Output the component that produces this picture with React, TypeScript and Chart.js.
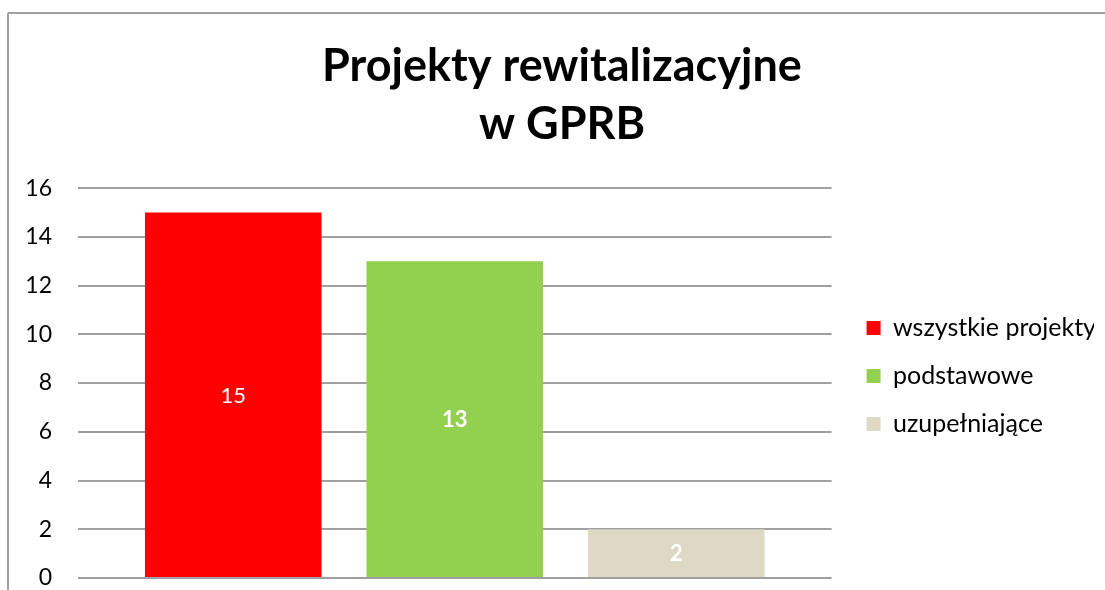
import React, { useEffect, useRef } from "react";
import { Chart, registerables } from "chart.js";

Chart.register(...registerables);

const categories = [""];
const seriesNames = ["wszystkie projekty", "podstawowe", "uzupełniające"];
const seriesValues = [15, 13, 2];
const seriesColors = ["#FF0000", "#92D050", "#DDD9C4"];
const labelBold = [false, true, true];
const titleLines = ["Projekty rewitalizacyjne", "w GPRB"];
const yMin = 0;
const yMax = 16;
const yStep = 2;

const FONT = "Lato, 'Open Sans', sans-serif";

const framePlugin = {
  id: "frame",
  beforeDraw(chart: any) {
    const ctx = chart.ctx;
    ctx.save();
    ctx.strokeStyle = "#A0A0A0";
    ctx.lineWidth = 2;
    ctx.beginPath();
    ctx.moveTo(8, 13);
    ctx.lineTo(chart.width, 13);
    ctx.moveTo(8, 13);
    ctx.lineTo(8, chart.height);
    ctx.stroke();
    ctx.restore();
  },
};

const layoutShiftPlugin = {
  id: "layoutShift",
  afterLayout(chart: any) {
    const lg = chart.legend;
    if (lg) {
      lg.left += 12;
      lg.top -= 7;
      lg.bottom -= 7;
    }
    const tb = chart.titleBlock;
    if (tb) {
      tb.left += 6;
      tb.right += 6;
    }
  },
};

const valueLabelPlugin = {
  id: "valueLabels",
  afterDatasetsDraw(chart: any) {
    const ctx = chart.ctx;
    ctx.save();
    ctx.fillStyle = "#FFFFFF";
    ctx.textAlign = "center";
    ctx.textBaseline = "middle";
    chart.data.datasets.forEach((ds: any, i: number) => {
      const meta = chart.getDatasetMeta(i);
      meta.data.forEach((bar: any, j: number) => {
        const v = ds.data[j];
        ctx.font = `${labelBold[i] ? "bold " : ""}22px ${FONT}`;
        ctx.fillText(String(v), bar.x, (bar.y + bar.base) / 2 + 1);
      });
    });
    ctx.restore();
  },
};

export default function App() {
  const ref = useRef<HTMLCanvasElement | null>(null);
  useEffect(() => {
    if (!ref.current) return;
    const chart = new Chart(ref.current, {
      type: "bar",
      data: {
        labels: categories,
        datasets: seriesNames.map((name, i) => ({
          label: name,
          data: [seriesValues[i]],
          backgroundColor: seriesColors[i],
          borderWidth: 0,
          categoryPercentage: 0.882,
          barPercentage: 0.797,
        })),
      },
      options: {
        animation: false,
        responsive: false,
        layout: { padding: { left: 18, right: 11, top: 0, bottom: 12 } },
        plugins: {
          title: {
            display: true,
            text: titleLines,
            color: "#000000",
            font: { family: FONT, size: 45, weight: "bold", lineHeight: 1.29 },
            padding: { top: 37, bottom: 35 },
          },
          legend: {
            position: "right",
            align: "center",
            fullSize: false,
            labels: {
              boxWidth: 14,
              boxHeight: 14,
              padding: 23,
              color: "#000000",
              font: { family: FONT, size: 25, lineHeight: 1 },
            },
          },
          tooltip: { enabled: false },
        },
        scales: {
          x: { display: false },
          y: {
            min: yMin,
            max: yMax,
            ticks: {
              stepSize: yStep,
              padding: 26,
              color: "#000000",
              font: { family: FONT, size: 23 },
            },
            grid: { color: "#A0A0A0", lineWidth: 2, drawTicks: false },
            border: { display: false },
            afterFit: (s: any) => {
              s.width = 60;
              s.paddingTop = 0;
              s.paddingBottom = 0;
            },
          },
        },
      },
      plugins: [framePlugin, layoutShiftPlugin, valueLabelPlugin],
    });
    return () => chart.destroy();
  }, []);
  return (
    <div style={{ position: "absolute", left: 0, top: 0, width: 1105, height: 590, background: "#fff" }}>
      <canvas ref={ref} width={1105} height={590} />
    </div>
  );
}
